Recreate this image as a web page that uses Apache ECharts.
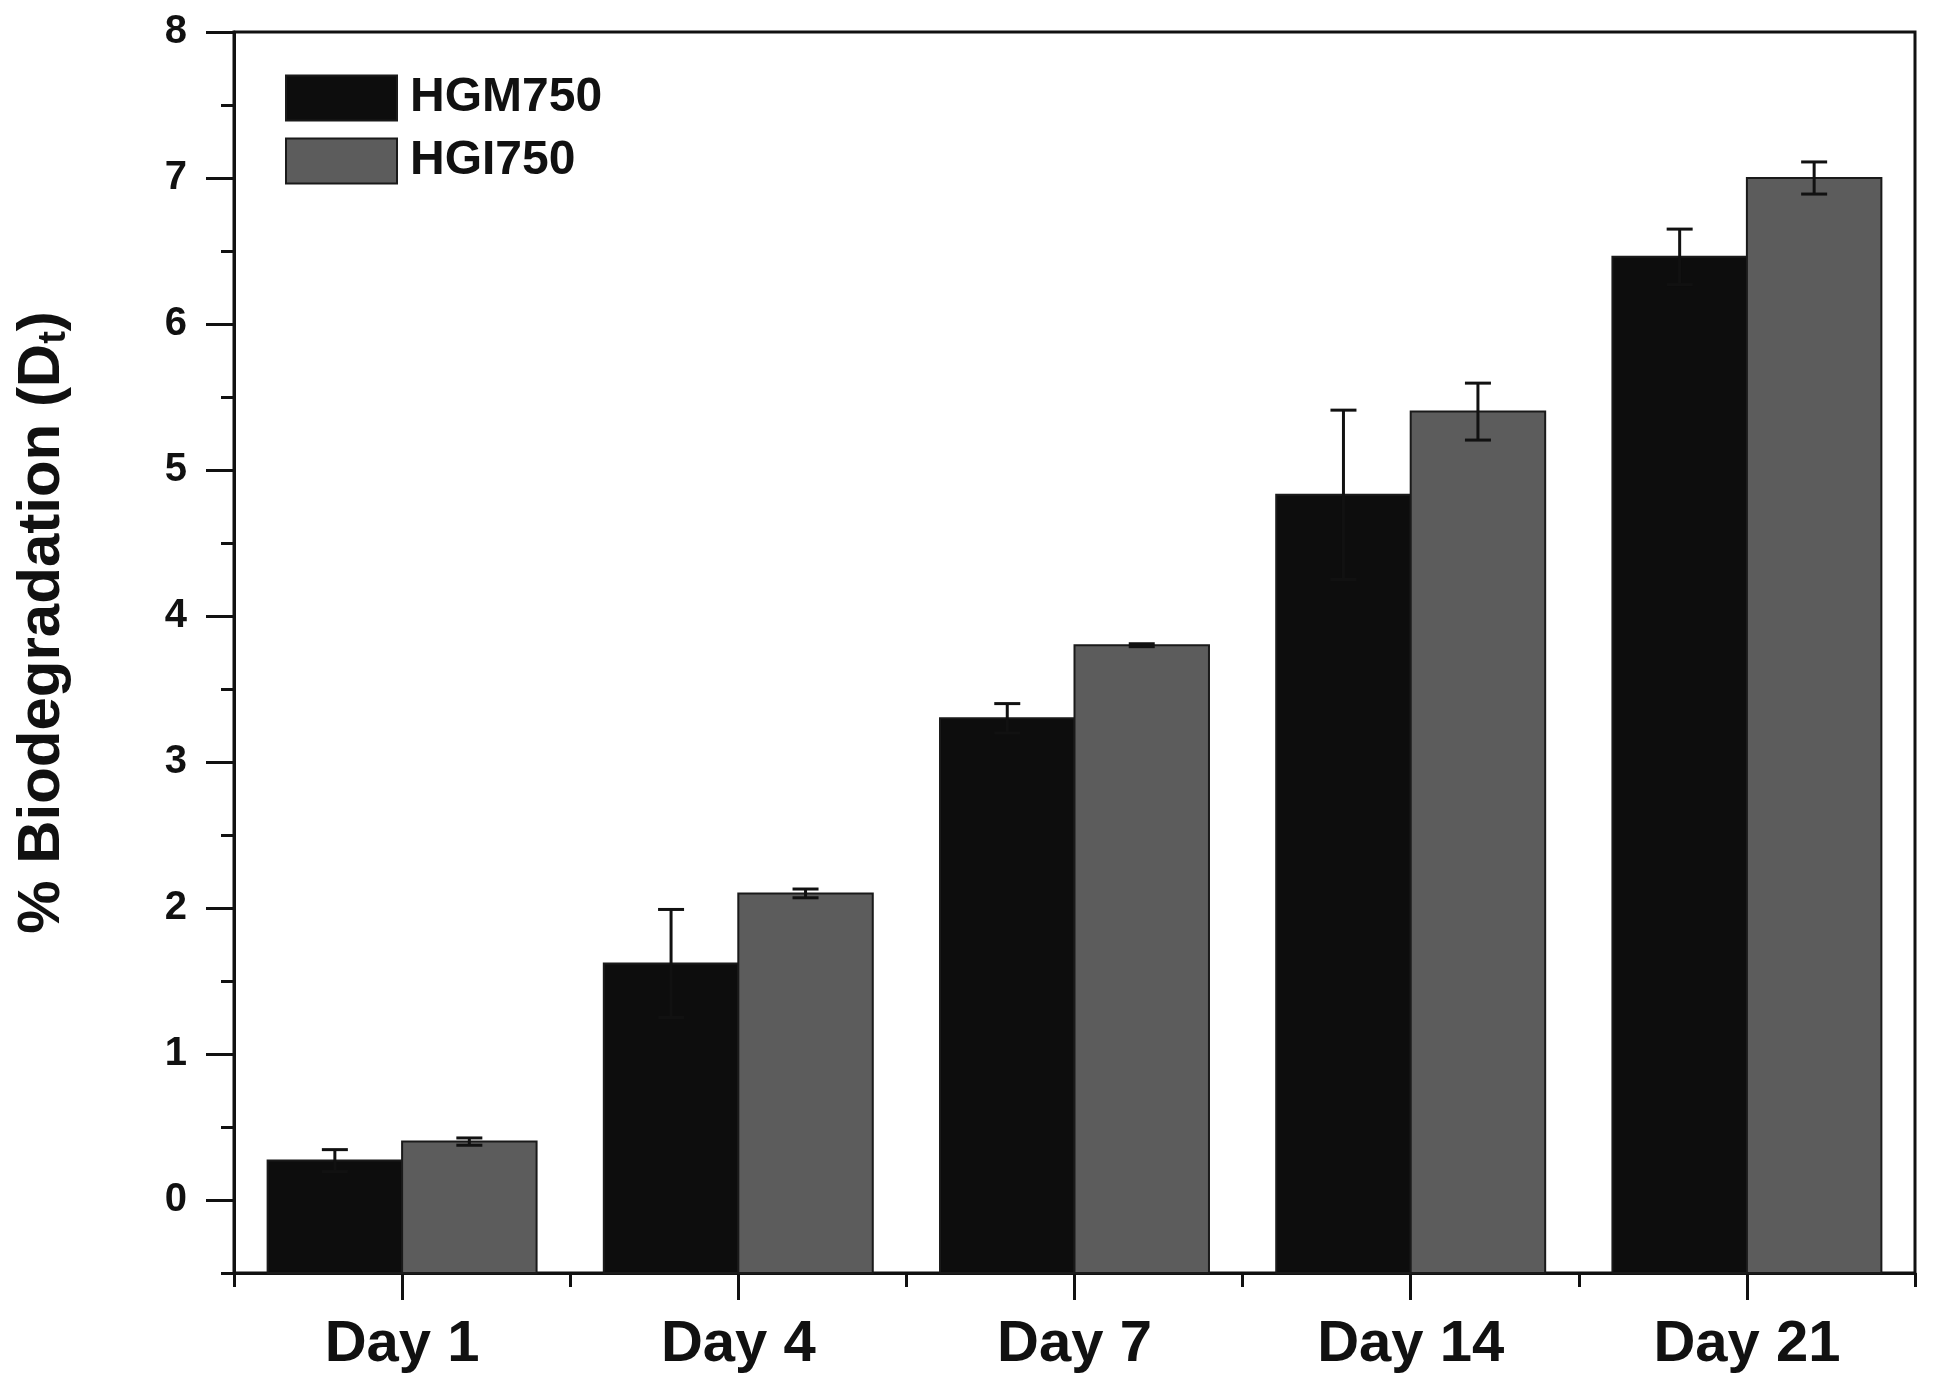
<!DOCTYPE html>
<html>
<head>
<meta charset="utf-8">
<script src="https://cdn.jsdelivr.net/npm/echarts@6/dist/echarts.min.js"></script>
<style>
html,body{margin:0;padding:0;background:#fff;}
#chart{width:1934px;height:1386px;}
</style>
</head>
<body>
<div id="chart"></div>
<script>
const categories = ['Day 1', 'Day 4', 'Day 7', 'Day 14', 'Day 21'];
const hgmValues = [0.27, 1.62, 3.30, 4.83, 6.46];
const hgmErrors = [0.075, 0.37, 0.10, 0.58, 0.19];
const hgiValues = [0.40, 2.10, 3.80, 5.40, 7.00];
const hgiErrors = [0.025, 0.03, 0.01, 0.195, 0.11];
const yTickLabels = [0, 1, 2, 3, 4, 5, 6, 7, 8];
const yMinorTicks = [-0.5, 0.5, 1.5, 2.5, 3.5, 4.5, 5.5, 6.5, 7.5];
const Y_MIN = -0.5;
const Y_MAX = 8;

const FONT = "'Liberation Sans', Arial, Helvetica, sans-serif";
const HGM_COLOR = '#0d0d0d';
const HGI_COLOR = '#5c5c5c';
const chart = echarts.init(document.getElementById('chart'), null, {renderer: 'canvas'});

// bars drawn from the bottom of the value axis (as in the original plot)
function barSeries(name, values, color, side) {
  return {
    type: 'custom',
    name: name,
    xAxisIndex: 0,
    yAxisIndex: 0,
    z: 2,
    itemStyle: {color: color, borderColor: '#1a1a1a', borderWidth: 2},
    data: values.map((v, i) => [i, v]),
    renderItem: function (params, api) {
      const idx = api.value(0);
      const v = api.value(1);
      const band = api.size([1, 0])[0];
      const w = band * 0.4;
      const top = api.coord([idx, v]);
      const base = api.coord([idx, Y_MIN]);
      const x0 = side < 0 ? top[0] - w : top[0];
      return {
        type: 'rect',
        shape: {x: x0, y: top[1], width: w, height: base[1] - top[1]},
        style: {fill: color, stroke: '#1a1a1a', lineWidth: 2}
      };
    }
  };
}

function errorSeries(name, values, errors, side) {
  return {
    type: 'custom',
    name: name + ' err',
    xAxisIndex: 0,
    yAxisIndex: 0,
    z: 5,
    silent: true,
    data: values.map((v, i) => [i, v, errors[i]]),
    renderItem: function (params, api) {
      const idx = api.value(0);
      const v = api.value(1);
      const e = api.value(2);
      const band = api.size([1, 0])[0];
      const off = side * band * 0.2;
      const top = api.coord([idx, v + e]);
      const bot = api.coord([idx, v - e]);
      const x = top[0] + off;
      const cap = 13;
      const st = {stroke: '#111', lineWidth: 3};
      return {
        type: 'group',
        children: [
          {type: 'line', shape: {x1: x, y1: top[1], x2: x, y2: bot[1]}, style: st},
          {type: 'line', shape: {x1: x - cap, y1: top[1], x2: x + cap, y2: top[1]}, style: st},
          {type: 'line', shape: {x1: x - cap, y1: bot[1], x2: x + cap, y2: bot[1]}, style: st}
        ]
      };
    }
  };
}

chart.setOption({
  animation: false,
  backgroundColor: '#ffffff',
  textStyle: {fontFamily: FONT},
  grid: {
    left: 234, right: 19, top: 32, bottom: 113,
    show: true, borderColor: '#111', borderWidth: 3, backgroundColor: 'transparent'
  },
  legend: {
    orient: 'vertical',
    left: 280,
    top: 69,
    itemWidth: 111,
    itemHeight: 45,
    itemGap: 15,
    icon: 'rect',
    itemStyle: {borderColor: '#1a1a1a', borderWidth: 2},
    data: [
      {name: 'HGM750', itemStyle: {color: HGM_COLOR}},
      {name: 'HGI750', itemStyle: {color: HGI_COLOR}}
    ],
    textStyle: {fontFamily: FONT, fontSize: 48, fontWeight: 'bold', color: '#111', padding: [0, 0, 0, 8]}
  },
  xAxis: [
    {
      type: 'category',
      data: categories,
      position: 'bottom',
      axisLine: {show: true, onZero: false, lineStyle: {color: '#111', width: 3}},
      axisTick: {show: true, alignWithLabel: true, length: 27, lineStyle: {color: '#111', width: 3}},
      axisLabel: {fontFamily: FONT, fontSize: 58, fontWeight: 'bold', color: '#111', margin: 43},
      splitLine: {show: false}
    },
    {
      type: 'category',
      data: categories,
      position: 'bottom',
      axisLine: {show: false, onZero: false},
      axisTick: {show: true, length: 14, lineStyle: {color: '#111', width: 3}},
      axisLabel: {show: false},
      splitLine: {show: false}
    }
  ],
  yAxis: [
    {
      type: 'value',
      min: Y_MIN,
      max: Y_MAX,
      position: 'left',
      name: '{a|% Biodegradation (D}{s|t}{a|)}',
      nameLocation: 'middle',
      nameGap: 160,
      nameRotate: 90,
      nameTextStyle: {
        padding: [0, 0, 0, 60],
        rich: {
          a: {fontFamily: FONT, fontSize: 60, fontWeight: 'bold', color: '#111'},
          s: {fontFamily: FONT, fontSize: 38, fontWeight: 'bold', color: '#111', padding: [26, 0, 0, 0]}
        }
      },
      axisLine: {show: true, onZero: false, lineStyle: {color: '#111', width: 3}},
      axisTick: {show: true, length: 28, customValues: yTickLabels, lineStyle: {color: '#111', width: 3}},
      axisLabel: {customValues: yTickLabels, fontFamily: FONT, fontSize: 40, fontWeight: 'bold', color: '#111', margin: 47},
      splitLine: {show: false}
    },
    {
      type: 'value',
      min: Y_MIN,
      max: Y_MAX,
      position: 'left',
      axisLine: {show: false, onZero: false},
      axisTick: {show: true, length: 13, customValues: yMinorTicks, lineStyle: {color: '#111', width: 3}},
      axisLabel: {show: false},
      splitLine: {show: false}
    }
  ],
  series: [
    barSeries('HGM750', hgmValues, HGM_COLOR, -1),
    barSeries('HGI750', hgiValues, HGI_COLOR, 1),
    errorSeries('HGM750', hgmValues, hgmErrors, -1),
    errorSeries('HGI750', hgiValues, hgiErrors, 1)
  ]
});
</script>
</body>
</html>
